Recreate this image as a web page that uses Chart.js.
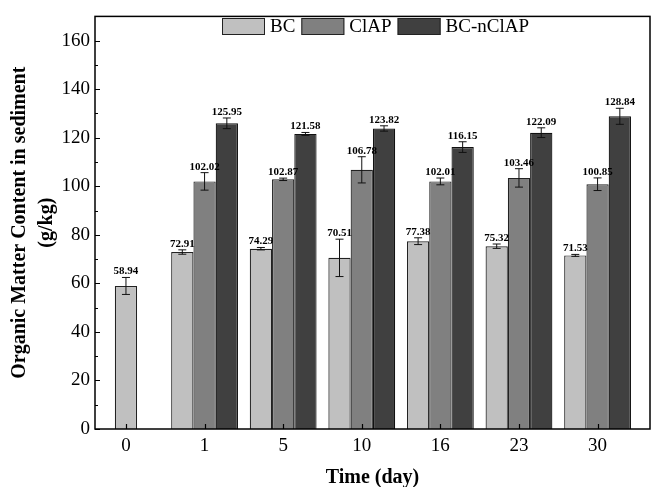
<!DOCTYPE html>
<html>
<head>
<meta charset="utf-8">
<script src="https://cdn.jsdelivr.net/npm/chart.js@4/dist/chart.umd.min.js"></script>
<style>
  html, body { margin: 0; padding: 0; background: #fff; }
  #wrap { width: 653px; height: 487px; }
</style>
</head>
<body>
<div id="wrap"><canvas id="chart"></canvas></div>
<script>
// values
var days = ['0', '1', '5', '10', '16', '23', '30'];
var bcValues = [58.94, 72.91, 74.29, 70.51, 77.38, 75.32, 71.53];
var bcErrors = [3.5, 0.9, 0.5, 7.7, 1.4, 0.9, 0.4];
var clapValues = [null, 102.02, 102.87, 106.78, 102.01, 103.46, 100.85];
var clapErrors = [null, 3.6, 0.5, 5.4, 1.4, 3.8, 2.6];
var ncValues = [null, 125.95, 121.58, 123.82, 116.15, 122.09, 128.84];
var ncErrors = [null, 2.2, 0.6, 1.1, 2.2, 2.0, 3.3];
var yTicks = [0, 20, 40, 60, 80, 100, 120, 140, 160];
var yMinorTicks = [10, 30, 50, 70, 90, 110, 130, 150];

var serif = "'Liberation Serif', 'Times New Roman', serif";

function points(values) {
  return values.map(function(v, i) { return { x: i, y: v }; });
}

var errors = [bcErrors, clapErrors, ncErrors];

// error bars, value labels, frame, inward ticks and the legend inside the plot
var extras = {
  id: 'extras',
  afterDatasetsDraw: function(chart) {
    var ctx = chart.ctx;
    var y = chart.scales.y;
    ctx.save();
    chart.data.datasets.forEach(function(ds, d) {
      var meta = chart.getDatasetMeta(d);
      meta.data.forEach(function(bar, i) {
        var v = ds.data[i].y;
        if (v === null) return;
        var e = errors[d][i];
        var top = y.getPixelForValue(v + e);
        var bot = y.getPixelForValue(v - e);
        ctx.strokeStyle = '#111';
        ctx.lineWidth = 1;
        ctx.beginPath();
        ctx.moveTo(bar.x, top); ctx.lineTo(bar.x, bot);
        ctx.moveTo(bar.x - 4, top); ctx.lineTo(bar.x + 4, top);
        ctx.moveTo(bar.x - 4, bot); ctx.lineTo(bar.x + 4, bot);
        ctx.stroke();
        ctx.fillStyle = '#000';
        ctx.font = 'bold 11px ' + serif;
        ctx.textAlign = 'center';
        ctx.textBaseline = 'alphabetic';
        ctx.fillText(v.toFixed(2), bar.x, top - 3);
      });
    });
    ctx.restore();
  },
  afterDraw: function(chart) {
    var ctx = chart.ctx;
    var a = chart.chartArea;
    var x = chart.scales.x, y = chart.scales.y;
    ctx.save();
    ctx.strokeStyle = '#000';
    ctx.lineWidth = 1.5;
    ctx.strokeRect(a.left, a.top, a.right - a.left, a.bottom - a.top);
    ctx.lineWidth = 1.2;
    ctx.beginPath();
    yTicks.forEach(function(t) {
      var p = Math.round(y.getPixelForValue(t)) + 0.5;
      ctx.moveTo(a.left, p); ctx.lineTo(a.left + 5, p);
    });
    yMinorTicks.forEach(function(t) {
      var p = Math.round(y.getPixelForValue(t)) + 0.5;
      ctx.moveTo(a.left, p); ctx.lineTo(a.left + 3, p);
    });
    days.forEach(function(dd, i) {
      var p = Math.round(x.getPixelForValue(i)) + 0.5;
      ctx.moveTo(p, a.bottom); ctx.lineTo(p, a.bottom - 5);
    });
    ctx.stroke();

    // legend
    var lx = 222, ly = 18;
    ctx.font = '19px ' + serif;
    ctx.textBaseline = 'middle';
    ctx.textAlign = 'left';
    chart.data.datasets.forEach(function(ds) {
      ctx.fillStyle = ds.backgroundColor;
      ctx.fillRect(lx, ly, 43, 17);
      ctx.strokeStyle = '#222';
      ctx.lineWidth = 1;
      ctx.strokeRect(lx + 0.5, ly + 0.5, 42, 16);
      ctx.fillStyle = '#000';
      ctx.fillText(ds.label, lx + 48, ly + 9);
      lx += 48 + ctx.measureText(ds.label).width + 6;
    });
    ctx.restore();
  }
};

var ctx = document.getElementById('chart').getContext('2d');
var chart = new Chart(ctx, {
  type: 'bar',
  data: {
    datasets: [
      { label: 'BC', data: points(bcValues), backgroundColor: '#c0c0c0', borderColor: '#222', borderWidth: 1.2 },
      { label: 'ClAP', data: points(clapValues), backgroundColor: '#808080', borderColor: '#222', borderWidth: 1.2 },
      { label: 'BC-nClAP', data: points(ncValues), backgroundColor: '#404040', borderColor: '#111', borderWidth: 1.2 }
    ]
  },
  options: {
    responsive: true,
    maintainAspectRatio: false,
    animation: false,
    skipNull: true,
    maxBarThickness: 22.3,
    categoryPercentage: 0.85,
    barPercentage: 1.0,
    layout: { padding: { top: 13, right: 3, left: 0, bottom: 0 } },
    plugins: { legend: { display: false }, tooltip: { enabled: false } },
    scales: {
      x: {
        type: 'linear',
        offset: false,
        min: -0.394,
        max: 6.667,
        grid: { display: false, drawTicks: false },
        border: { display: false },
        afterBuildTicks: function(s) { s.ticks = days.map(function(d, i) { return { value: i }; }); },
        afterFit: function(s) { s.height = 58; },
        ticks: {
          autoSkip: false,
          maxRotation: 0,
          padding: 6,
          color: '#000',
          font: { family: serif, size: 19 },
          callback: function(v) { return days[v]; }
        },
        title: {
          display: true,
          text: 'Time (day)',
          color: '#000',
          font: { family: serif, size: 20, weight: 'bold', lineHeight: 0.95 },
          padding: { top: 0, bottom: 0 }
        }
      },
      y: {
        min: 0,
        max: 170,
        grid: { display: false, drawTicks: false },
        border: { display: false },
        afterBuildTicks: function(s) { s.ticks = yTicks.map(function(t) { return { value: t }; }); },
        afterFit: function(s) { s.width = 95; },
        ticks: {
          padding: 5,
          color: '#000',
          font: { family: serif, size: 19 }
        },
        title: {
          display: true,
          text: ['Organic Matter Content in sediment', '(g/kg)'],
          color: '#000',
          font: { family: serif, size: 20, weight: 'bold', lineHeight: 1.35 },
          padding: { top: 6, bottom: 0 }
        }
      }
    }
  },
  plugins: [extras]
});
</script>
</body>
</html>
